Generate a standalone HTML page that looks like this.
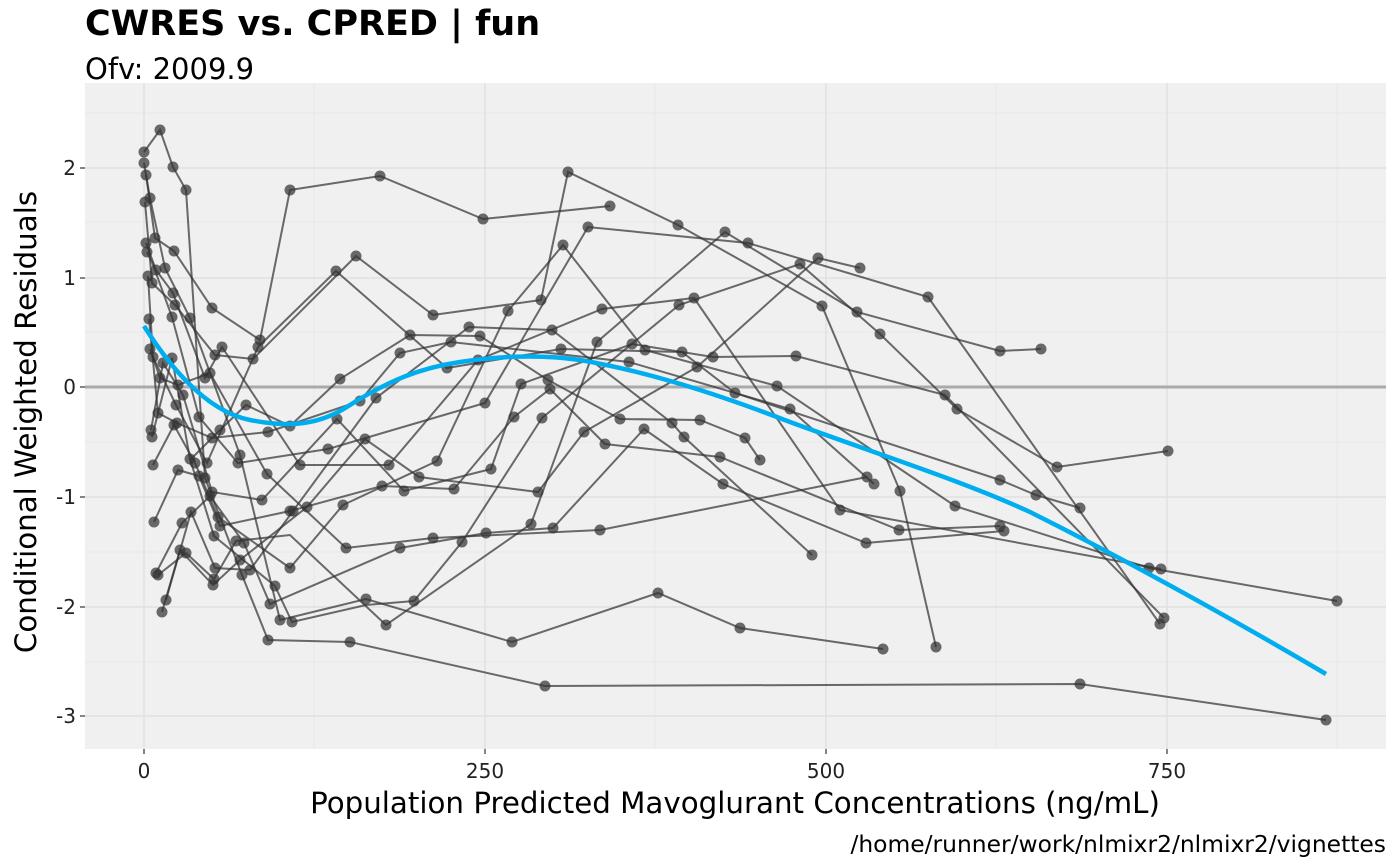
<!DOCTYPE html>
<html><head><meta charset="utf-8"><style>
html,body{margin:0;padding:0;background:#fff;}
svg{display:block;font-family:"DejaVu Sans","Liberation Sans",sans-serif;}
</style></head><body>
<svg width="1400" height="865" viewBox="0 0 1400 865" xmlns="http://www.w3.org/2000/svg">
<rect width="1400" height="865" fill="#fff"/>
<text x="85" y="35" font-size="35" font-weight="bold" fill="#000">CWRES vs. CPRED | fun</text>
<text x="85" y="79" font-size="29" fill="#000">Ofv: 2009.9</text>
<rect x="85" y="83" width="1301" height="666" fill="#f0f0f0"/>
<g stroke="#e8e8e8" stroke-width="1">
<line x1="85" y1="222" x2="1386" y2="222"/><line x1="85" y1="332" x2="1386" y2="332"/><line x1="85" y1="442" x2="1386" y2="442"/><line x1="85" y1="552" x2="1386" y2="552"/><line x1="85" y1="662" x2="1386" y2="662"/><line x1="85" y1="113" x2="1386" y2="113"/>
<line x1="314" y1="83" x2="314" y2="749"/><line x1="655" y1="83" x2="655" y2="749"/><line x1="996" y1="83" x2="996" y2="749"/><line x1="1337" y1="83" x2="1337" y2="749"/>
</g>
<g stroke="#e0e0e0" stroke-width="1.4">
<line x1="85" y1="168" x2="1386" y2="168"/><line x1="85" y1="278" x2="1386" y2="278"/><line x1="85" y1="497" x2="1386" y2="497"/><line x1="85" y1="607" x2="1386" y2="607"/><line x1="85" y1="716" x2="1386" y2="716"/>
<line x1="144" y1="83" x2="144" y2="749"/><line x1="485" y1="83" x2="485" y2="749"/><line x1="826" y1="83" x2="826" y2="749"/><line x1="1167" y1="83" x2="1167" y2="749"/>
</g>
<line x1="85" y1="387" x2="1386" y2="387" stroke="#aaa" stroke-width="3"/>
<g fill="none" stroke="#333" stroke-opacity="0.72" stroke-width="2">
<polyline points="144,152 160,130 173,167 186,190 205,478 242,575 268,640 350,642 545,686 1080,684 1326,720"/>
<polyline points="144,163 150,198 165,268 190,318 240,455 280,620 366,599 512,642 658,593 740,628 883,649"/>
<polyline points="146,175 155,238 174,251 212,308 260,340 290,190 380,176 483,219 610,206"/>
<polyline points="145,202 152,283 175,305 215,355 253,359 356,256 433,315 541,300 568,172 678,225 822,306 900,491 936,647"/>
<polyline points="146,243 156,270 173,293 205,378 222,347 300,465 389,465 478,360 602,309 694,298 840,510 1161,569"/>
<polyline points="147,252 152,262 172,317 199,417 238,463 328,449 485,403 588,227 748,243 928,297 1160,624"/>
<polyline points="148,276 153,357 176,405 207,463 258,347 336,271 447,368 561,349 682,352 735,393 1000,480 1036,495 1080,508"/>
<polyline points="149,319 158,413 177,423 212,438 268,432 360,401 400,353 451,342 629,362 790,409 874,484"/>
<polyline points="150,349 160,378 178,385 210,373 267,474 346,548 433,538 600,530 867,477"/>
<polyline points="151,430 163,363 183,395 212,492 262,500 337,419 404,491 491,469 521,384 632,344 713,357 796,356 945,395 1164,618"/>
<polyline points="152,437 172,358 190,459 214,536 275,586 292,622 366,605 414,601 462,542 542,418 679,305 800,264 880,334 957,409 1057,467 1168,451"/>
<polyline points="153,465 174,425 195,463 218,517 290,568 343,505 437,461 508,311 563,245 645,350 777,386 955,506 1149,568 1337,601"/>
<polyline points="154,522 178,470 199,476 220,526 290,511 382,486 454,489 514,417 550,389 605,444 720,457 899,530 1000,526"/>
<polyline points="156,573 182,523 210,496 244,543 270,604 400,548 486,533 553,528 644,429 723,484 866,543 1004,531"/>
<polyline points="158,575 186,553 214,579 236,541 290,535 386,625 531,524 597,342 725,232 857,312 1000,351 1041,349"/>
<polyline points="162,612 180,550 213,585 240,560 307,507 365,439 419,477 538,492 584,432 697,367 818,258 860,268"/>
<polyline points="166,600 191,512 215,568 250,570 293,511 376,398 469,327 552,330 672,423 684,437 812,555"/>
<polyline points="190,460 220,430 246,405 290,426 340,379 410,335 480,336 548,380 620,419 700,420 745,438 760,460"/>
</g>
<g fill="#333" fill-opacity="0.72">
<circle cx="144" cy="152" r="5.5"/><circle cx="160" cy="130" r="5.5"/><circle cx="173" cy="167" r="5.5"/><circle cx="186" cy="190" r="5.5"/><circle cx="205" cy="478" r="5.5"/><circle cx="242" cy="575" r="5.5"/><circle cx="268" cy="640" r="5.5"/><circle cx="350" cy="642" r="5.5"/><circle cx="545" cy="686" r="5.5"/><circle cx="1080" cy="684" r="5.5"/><circle cx="1326" cy="720" r="5.5"/>
<circle cx="144" cy="163" r="5.5"/><circle cx="150" cy="198" r="5.5"/><circle cx="165" cy="268" r="5.5"/><circle cx="190" cy="318" r="5.5"/><circle cx="240" cy="455" r="5.5"/><circle cx="280" cy="620" r="5.5"/><circle cx="366" cy="599" r="5.5"/><circle cx="512" cy="642" r="5.5"/><circle cx="658" cy="593" r="5.5"/><circle cx="740" cy="628" r="5.5"/><circle cx="883" cy="649" r="5.5"/>
<circle cx="146" cy="175" r="5.5"/><circle cx="155" cy="238" r="5.5"/><circle cx="174" cy="251" r="5.5"/><circle cx="212" cy="308" r="5.5"/><circle cx="260" cy="340" r="5.5"/><circle cx="290" cy="190" r="5.5"/><circle cx="380" cy="176" r="5.5"/><circle cx="483" cy="219" r="5.5"/><circle cx="610" cy="206" r="5.5"/>
<circle cx="145" cy="202" r="5.5"/><circle cx="152" cy="283" r="5.5"/><circle cx="175" cy="305" r="5.5"/><circle cx="215" cy="355" r="5.5"/><circle cx="253" cy="359" r="5.5"/><circle cx="356" cy="256" r="5.5"/><circle cx="433" cy="315" r="5.5"/><circle cx="541" cy="300" r="5.5"/><circle cx="568" cy="172" r="5.5"/><circle cx="678" cy="225" r="5.5"/><circle cx="822" cy="306" r="5.5"/><circle cx="900" cy="491" r="5.5"/><circle cx="936" cy="647" r="5.5"/>
<circle cx="146" cy="243" r="5.5"/><circle cx="156" cy="270" r="5.5"/><circle cx="173" cy="293" r="5.5"/><circle cx="205" cy="378" r="5.5"/><circle cx="222" cy="347" r="5.5"/><circle cx="300" cy="465" r="5.5"/><circle cx="389" cy="465" r="5.5"/><circle cx="478" cy="360" r="5.5"/><circle cx="602" cy="309" r="5.5"/><circle cx="694" cy="298" r="5.5"/><circle cx="840" cy="510" r="5.5"/><circle cx="1161" cy="569" r="5.5"/>
<circle cx="147" cy="252" r="5.5"/><circle cx="172" cy="317" r="5.5"/><circle cx="199" cy="417" r="5.5"/><circle cx="238" cy="463" r="5.5"/><circle cx="328" cy="449" r="5.5"/><circle cx="485" cy="403" r="5.5"/><circle cx="588" cy="227" r="5.5"/><circle cx="748" cy="243" r="5.5"/><circle cx="928" cy="297" r="5.5"/><circle cx="1160" cy="624" r="5.5"/>
<circle cx="148" cy="276" r="5.5"/><circle cx="153" cy="357" r="5.5"/><circle cx="176" cy="405" r="5.5"/><circle cx="207" cy="463" r="5.5"/><circle cx="258" cy="347" r="5.5"/><circle cx="336" cy="271" r="5.5"/><circle cx="447" cy="368" r="5.5"/><circle cx="561" cy="349" r="5.5"/><circle cx="682" cy="352" r="5.5"/><circle cx="735" cy="393" r="5.5"/><circle cx="1000" cy="480" r="5.5"/><circle cx="1036" cy="495" r="5.5"/><circle cx="1080" cy="508" r="5.5"/>
<circle cx="149" cy="319" r="5.5"/><circle cx="158" cy="413" r="5.5"/><circle cx="177" cy="423" r="5.5"/><circle cx="212" cy="438" r="5.5"/><circle cx="268" cy="432" r="5.5"/><circle cx="360" cy="401" r="5.5"/><circle cx="400" cy="353" r="5.5"/><circle cx="451" cy="342" r="5.5"/><circle cx="629" cy="362" r="5.5"/><circle cx="790" cy="409" r="5.5"/><circle cx="874" cy="484" r="5.5"/>
<circle cx="150" cy="349" r="5.5"/><circle cx="160" cy="378" r="5.5"/><circle cx="178" cy="385" r="5.5"/><circle cx="210" cy="373" r="5.5"/><circle cx="267" cy="474" r="5.5"/><circle cx="346" cy="548" r="5.5"/><circle cx="433" cy="538" r="5.5"/><circle cx="600" cy="530" r="5.5"/><circle cx="867" cy="477" r="5.5"/>
<circle cx="151" cy="430" r="5.5"/><circle cx="163" cy="363" r="5.5"/><circle cx="183" cy="395" r="5.5"/><circle cx="212" cy="492" r="5.5"/><circle cx="262" cy="500" r="5.5"/><circle cx="337" cy="419" r="5.5"/><circle cx="404" cy="491" r="5.5"/><circle cx="491" cy="469" r="5.5"/><circle cx="521" cy="384" r="5.5"/><circle cx="632" cy="344" r="5.5"/><circle cx="713" cy="357" r="5.5"/><circle cx="796" cy="356" r="5.5"/><circle cx="945" cy="395" r="5.5"/><circle cx="1164" cy="618" r="5.5"/>
<circle cx="152" cy="437" r="5.5"/><circle cx="172" cy="358" r="5.5"/><circle cx="190" cy="459" r="5.5"/><circle cx="214" cy="536" r="5.5"/><circle cx="275" cy="586" r="5.5"/><circle cx="292" cy="622" r="5.5"/><circle cx="414" cy="601" r="5.5"/><circle cx="462" cy="542" r="5.5"/><circle cx="542" cy="418" r="5.5"/><circle cx="679" cy="305" r="5.5"/><circle cx="800" cy="264" r="5.5"/><circle cx="880" cy="334" r="5.5"/><circle cx="957" cy="409" r="5.5"/><circle cx="1057" cy="467" r="5.5"/><circle cx="1168" cy="451" r="5.5"/>
<circle cx="153" cy="465" r="5.5"/><circle cx="174" cy="425" r="5.5"/><circle cx="195" cy="463" r="5.5"/><circle cx="218" cy="517" r="5.5"/><circle cx="290" cy="568" r="5.5"/><circle cx="343" cy="505" r="5.5"/><circle cx="437" cy="461" r="5.5"/><circle cx="508" cy="311" r="5.5"/><circle cx="563" cy="245" r="5.5"/><circle cx="645" cy="350" r="5.5"/><circle cx="777" cy="386" r="5.5"/><circle cx="955" cy="506" r="5.5"/><circle cx="1149" cy="568" r="5.5"/><circle cx="1337" cy="601" r="5.5"/>
<circle cx="154" cy="522" r="5.5"/><circle cx="178" cy="470" r="5.5"/><circle cx="199" cy="476" r="5.5"/><circle cx="220" cy="526" r="5.5"/><circle cx="290" cy="511" r="5.5"/><circle cx="382" cy="486" r="5.5"/><circle cx="454" cy="489" r="5.5"/><circle cx="514" cy="417" r="5.5"/><circle cx="550" cy="389" r="5.5"/><circle cx="605" cy="444" r="5.5"/><circle cx="720" cy="457" r="5.5"/><circle cx="899" cy="530" r="5.5"/><circle cx="1000" cy="526" r="5.5"/>
<circle cx="156" cy="573" r="5.5"/><circle cx="182" cy="523" r="5.5"/><circle cx="210" cy="496" r="5.5"/><circle cx="244" cy="543" r="5.5"/><circle cx="270" cy="604" r="5.5"/><circle cx="400" cy="548" r="5.5"/><circle cx="486" cy="533" r="5.5"/><circle cx="553" cy="528" r="5.5"/><circle cx="644" cy="429" r="5.5"/><circle cx="723" cy="484" r="5.5"/><circle cx="866" cy="543" r="5.5"/><circle cx="1004" cy="531" r="5.5"/>
<circle cx="158" cy="575" r="5.5"/><circle cx="186" cy="553" r="5.5"/><circle cx="214" cy="579" r="5.5"/><circle cx="236" cy="541" r="5.5"/><circle cx="386" cy="625" r="5.5"/><circle cx="531" cy="524" r="5.5"/><circle cx="597" cy="342" r="5.5"/><circle cx="725" cy="232" r="5.5"/><circle cx="857" cy="312" r="5.5"/><circle cx="1000" cy="351" r="5.5"/><circle cx="1041" cy="349" r="5.5"/>
<circle cx="162" cy="612" r="5.5"/><circle cx="180" cy="550" r="5.5"/><circle cx="213" cy="585" r="5.5"/><circle cx="240" cy="560" r="5.5"/><circle cx="307" cy="507" r="5.5"/><circle cx="365" cy="439" r="5.5"/><circle cx="419" cy="477" r="5.5"/><circle cx="538" cy="492" r="5.5"/><circle cx="584" cy="432" r="5.5"/><circle cx="697" cy="367" r="5.5"/><circle cx="818" cy="258" r="5.5"/><circle cx="860" cy="268" r="5.5"/>
<circle cx="166" cy="600" r="5.5"/><circle cx="191" cy="512" r="5.5"/><circle cx="215" cy="568" r="5.5"/><circle cx="250" cy="570" r="5.5"/><circle cx="293" cy="511" r="5.5"/><circle cx="376" cy="398" r="5.5"/><circle cx="469" cy="327" r="5.5"/><circle cx="552" cy="330" r="5.5"/><circle cx="672" cy="423" r="5.5"/><circle cx="684" cy="437" r="5.5"/><circle cx="812" cy="555" r="5.5"/>
<circle cx="220" cy="430" r="5.5"/><circle cx="246" cy="405" r="5.5"/><circle cx="290" cy="426" r="5.5"/><circle cx="340" cy="379" r="5.5"/><circle cx="410" cy="335" r="5.5"/><circle cx="480" cy="336" r="5.5"/><circle cx="548" cy="380" r="5.5"/><circle cx="620" cy="419" r="5.5"/><circle cx="700" cy="420" r="5.5"/><circle cx="745" cy="438" r="5.5"/><circle cx="760" cy="460" r="5.5"/>
</g>
<path d="M144,326 C175,375 210,412 250,420 C290,428 320,425 350,405 C390,380 420,368 460,362 C500,356 540,354 580,360 C650,372 720,395 790,422 C880,455 960,480 1030,512 C1110,552 1200,600 1326,674" fill="none" stroke="#00aeef" stroke-width="4.5"/>
<g font-size="20" fill="#222" text-anchor="end">
<text x="76" y="175">2</text><text x="76" y="285">1</text><text x="76" y="394">0</text><text x="76" y="504">-1</text><text x="76" y="614">-2</text><text x="76" y="723">-3</text>
</g>
<g stroke="#333" stroke-width="1.2">
<line x1="80" y1="168" x2="85" y2="168"/><line x1="80" y1="278" x2="85" y2="278"/><line x1="80" y1="387" x2="85" y2="387"/><line x1="80" y1="497" x2="85" y2="497"/><line x1="80" y1="607" x2="85" y2="607"/><line x1="80" y1="716" x2="85" y2="716"/>
<line x1="144" y1="749" x2="144" y2="754"/><line x1="485" y1="749" x2="485" y2="754"/><line x1="826" y1="749" x2="826" y2="754"/><line x1="1167" y1="749" x2="1167" y2="754"/>
</g>
<g font-size="20" fill="#222" text-anchor="middle">
<text x="144" y="778">0</text><text x="485" y="778">250</text><text x="826" y="778">500</text><text x="1167" y="778">750</text>
</g>
<text x="735" y="813" font-size="29.3" fill="#000" text-anchor="middle">Population Predicted Mavoglurant Concentrations (ng/mL)</text>
<text transform="translate(36,422) rotate(-90)" font-size="29.3" fill="#000" text-anchor="middle">Conditional Weighted Residuals</text>
<text x="1386" y="852" font-size="23.4" fill="#000" text-anchor="end">/home/runner/work/nlmixr2/nlmixr2/vignettes</text>
</svg>
</body></html>
